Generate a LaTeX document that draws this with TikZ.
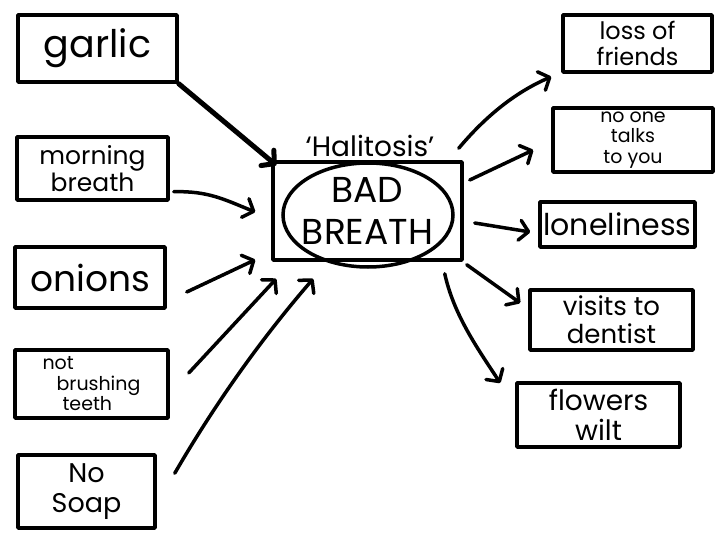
\documentclass[tikz,border=0pt]{standalone}
\usepackage{fontspec}
\setmainfont{Poppins}
\usetikzlibrary{arrows.meta,calc,shapes.geometric}
\newcommand\hfs[2]{\fontsize{#1}{#2}\selectfont}
\begin{document}
\begin{tikzpicture}[x=1pt,y=-1pt,
  box/.style={draw, line width=3.5pt, inner sep=0pt, align=center, line join=round},
  conn/.style={line width=3.5pt, line cap=round,
    -{Straight Barb[length=9pt,width=20pt,line cap=round,line join=round]}},
]
\useasboundingbox (0,0) rectangle (720,540);
\fill[white] (0,0) rectangle (720,540);

% left causes
\node[box, minimum width=159pt, minimum height=67pt, font=\hfs{38}{40}] (garlic) at (97.5,48.5) {garlic};
\node[box, minimum width=151pt, minimum height=63pt, font=\hfs{25}{27}] (morning) at (92.5,168.5) {morning\\breath};
\node[box, minimum width=150pt, minimum height=61pt, font=\hfs{36}{38}] (onions) at (90,277.5) {onions};
\node[box, minimum width=153pt, minimum height=68pt, align=left, font=\hfs{19}{20.5}] (brush) at (91.5,384) {not\\\hspace*{14pt}brushing\\\hspace*{20pt}teeth};
\node[box, minimum width=137pt, minimum height=73pt, font=\hfs{27}{30}] (soap) at (86.5,491.5) {No\\Soap};

% centre
\node[box, minimum width=189pt, minimum height=98pt, font=\hfs{36}{42}] (bad) at (367.5,211) {BAD\\BREATH};
\node[draw, ellipse, line width=3.5pt, minimum width=170pt, minimum height=104pt] (ring) at (368,215) {};
\node[font=\hfs{28}{30}] (hal) at (370,146) {`Halitosis'};

% right effects
\node[box, minimum width=149pt, minimum height=57pt, font=\hfs{24}{26}] (loss) at (637.5,43.5) {loss of\\friends};
\node[box, minimum width=160pt, minimum height=64pt, font=\hfs{19}{20.5}] (noone) at (633,140) {no one\\talks\\to you};
\node[box, minimum width=155pt, minimum height=45pt, font=\hfs{30}{32}] (lonely) at (617.5,224.5) {loneliness};
\node[box, minimum width=163pt, minimum height=60pt, font=\hfs{26}{28}] (visits) at (611.5,320) {visits to\\dentist};
\node[box, minimum width=163pt, minimum height=64pt, font=\hfs{28}{30}] (flowers) at (598.5,415) {flowers\\wilt};

% incoming arrows
\draw[conn, line width=5pt] (garlic.south east) -- ($(bad.north west)+(5,5)$);
\draw[conn] ($(morning.south east)+(4,-10)$) .. controls +(35,-1) and +(-30,-12) .. ($(bad.west)+(-16,1)$);
\draw[conn] ($(onions.east)+(20,14.5)$) -- ($(bad.south west)+(-16,-2)$);
\draw[conn] ($(brush.east)+(19,-11)$) -- ($(bad.south west)+(5,17)$);
\draw[conn] ($(soap.north east)+(18,20)$) .. controls +(40,-69) and +(-52,60) .. ($(bad.south west)+(42,17)$);

% outgoing arrows
\draw[conn] ($(bad.north east)+(-5,-12)$) .. controls +(26,-31) and +(-37,16) .. ($(loss.south west)+(-10,3)$);
\draw[conn] ($(bad.east)+(6,-31)$) -- ($(noone.west)+(-18,10)$);
\draw[conn] ($(bad.east)+(11,12)$) -- ($(lonely.west)+(-8,7.5)$);
\draw[conn] ($(bad.south east)+(3,3)$) -- ($(visits.west)+(-8,-17)$);
\draw[conn] ($(bad.south east)+(-19,12)$) .. controls +(9,41) and +(-23,-35) .. ($(flowers.west)+(-15,-32)$);
\end{tikzpicture}
\end{document}
